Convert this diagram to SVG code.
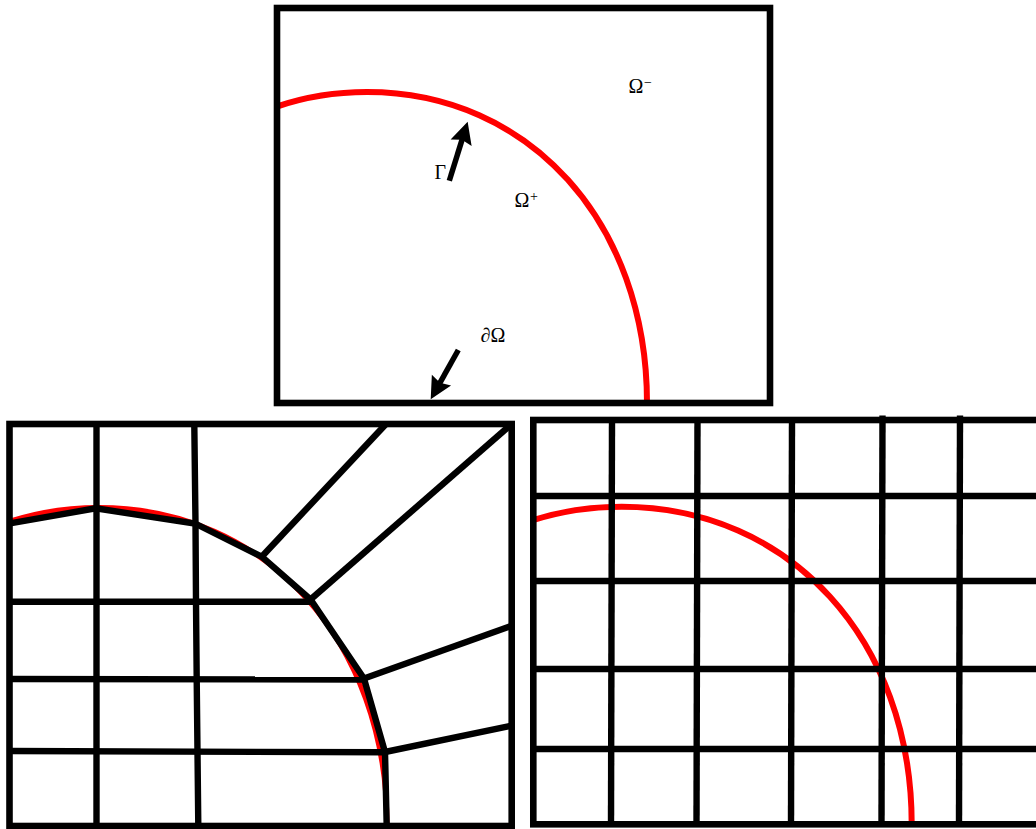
<svg xmlns="http://www.w3.org/2000/svg" width="1036" height="829" viewBox="0 0 1036 829">
<style>
.frame{fill:none;stroke:#000;stroke-width:6.6}
.mesh{fill:none;stroke:#000;stroke-width:6.4;stroke-linejoin:miter;stroke-linecap:butt}
.iface{fill:none;stroke:#ff0000;stroke-width:6}
.iface-thin{fill:none;stroke:#ff0000;stroke-width:5}
.arrow{stroke:#000;stroke-width:5.5;fill:none;marker-end:url(#head)}
.lbl{font-family:"Liberation Serif","DejaVu Serif",serif;font-size:20px;fill:#000}
.sup{font-size:14px}
</style>
<defs>
<marker id="head" markerUnits="userSpaceOnUse" markerWidth="30" markerHeight="30" viewBox="-10 -15 30 30" refX="0" refY="0" orient="auto" overflow="visible">
<path d="M18,0 L-4,-11 L-1,0 L-4,11 Z" fill="#000"/>
</marker>
<clipPath id="clipTop"><rect x="277" y="8" width="493" height="395"/></clipPath>
<clipPath id="clipLL"><rect x="9.5" y="424" width="502" height="402"/></clipPath>
<clipPath id="clipLR"><rect x="533.3" y="420" width="510" height="404.3"/></clipPath>
</defs>
<rect width="1036" height="829" fill="#fff"/>

<g id="panel-domain">
<path class="iface" clip-path="url(#clipTop)" d="M87,403 C87,222.6 204.6,92 367,92 C529.4,92 647,222.6 647,403"/>
<rect class="frame" x="277" y="8" width="493" height="395"/>
</g>

<g id="panel-fitted-mesh">
<path class="iface-thin" clip-path="url(#clipLL)" d="M-189,826 C-189,641.3 -68,507.5 99,507.5 C266,507.5 387,641.3 387,826"/>
<g class="mesh">
<polyline points="10,523.3 95.7,508.3 195,523.5 261.7,556.7 310.5,599.5 364,678.5 385,752 386.7,826"/>
<line x1="96.5" y1="424" x2="96.5" y2="826"/>
<polyline points="194.3,424 195.5,523.5 196,601.7 196.7,679 198.3,826"/>
<line x1="9.5" y1="601.7" x2="310.5" y2="601.7"/>
<line x1="9.5" y1="679" x2="364" y2="679.5"/>
<line x1="9.5" y1="751" x2="385" y2="752.3"/>
<line x1="261.7" y1="556.7" x2="386" y2="424"/>
<line x1="310.5" y1="599.5" x2="511.7" y2="424"/>
<line x1="364" y1="678.5" x2="511.7" y2="625.7"/>
<line x1="385" y1="752" x2="511.7" y2="725.7"/>
</g>
<rect class="frame" x="9.5" y="424" width="502.2" height="402"/>
</g>

<g id="panel-cartesian-mesh">
<path class="iface" clip-path="url(#clipLR)" d="M331.7,824.3 C331.7,640.1 453.5,506.8 621.7,506.8 C789.9,506.8 911.7,640.1 911.7,824.3"/>
<g class="mesh">
<line x1="533.3" y1="496" x2="1040" y2="496"/>
<line x1="533.3" y1="581" x2="1040" y2="581"/>
<line x1="533.3" y1="669" x2="1040" y2="669"/>
<line x1="533.3" y1="749" x2="1040" y2="749"/>
<line x1="612" y1="420" x2="611" y2="824.3"/>
<line x1="697.5" y1="420" x2="696.5" y2="824.3"/>
<line x1="792" y1="420" x2="791" y2="824.3"/>
<line x1="882.5" y1="415.5" x2="881.5" y2="824.3"/>
<line x1="960" y1="415.5" x2="959" y2="824.3"/>
</g>
<rect class="frame" x="533.3" y="420" width="510" height="404.3"/>
</g>

<g id="connectors">
<line class="arrow" x1="449.3" y1="180.7" x2="462.3" y2="138.9"/>
<line class="arrow" x1="458.3" y1="350" x2="439.5" y2="383.6"/>
</g>

<g id="labels">
<text id="label-gamma" class="lbl" x="434.5" y="179.3">Γ</text>
<text id="label-omega-plus" class="lbl" x="514.5" y="206.5">Ω<tspan class="sup" dx="0.5" dy="-6">+</tspan></text>
<text id="label-omega-minus" class="lbl" x="628.5" y="93.3">Ω<tspan class="sup" dx="0.5" dy="-6">−</tspan></text>
<text id="label-boundary" class="lbl" x="480.5" y="341.7">∂Ω</text>
</g>
</svg>
